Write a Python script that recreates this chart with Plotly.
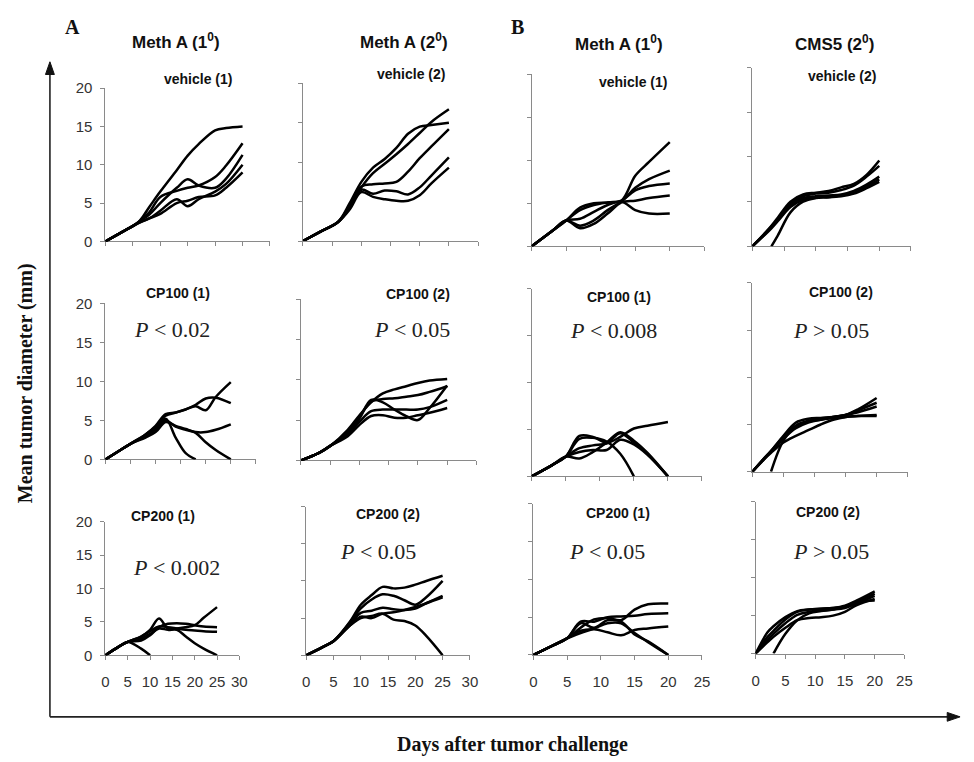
import plotly.graph_objects as go

W, H = 974, 762

# ---------------- data (days after challenge, mean tumour diameter mm) ----------------
# Panel A, Meth A (1st challenge)
A1_VEH_DAYS = [0, 3, 6, 8, 10, 13, 15, 17, 20, 22, 25]
A1_VEH = [
    [0, 1.2, 2.5, 4.5, 6.5, 9.3, 11.2, 12.7, 14.5, 14.8, 15.0],
    [0, 1.2, 2.5, 3.8, 5.8, 6.6, 7.0, 7.3, 8.4, 9.9, 12.8],
    [0, 1.2, 2.5, 3.5, 5.0, 7.0, 8.1, 7.3, 7.0, 8.2, 11.3],
    [0, 1.2, 2.4, 3.0, 4.0, 5.5, 4.6, 5.5, 6.5, 7.5, 10.0],
    [0, 1.2, 2.4, 3.0, 3.6, 5.0, 5.3, 5.8, 6.0, 7.0, 9.0],
]
A1_CP100_DAYS = [0, 3, 5, 8, 10, 12, 14, 16, 18, 20, 22, 25]
A1_CP100 = [
    [0, 1.2, 2.0, 3.2, 4.2, 5.6, 6.0, 6.4, 6.8, 6.3, 8.0, 9.9],
    [0, 1.2, 2.0, 3.2, 4.3, 5.8, 6.0, 6.4, 7.0, 7.8, 7.9, 7.2],
    [0, 1.2, 2.0, 3.0, 4.0, 5.0, 4.2, 3.8, 3.5, 3.5, 3.8, 4.5],
    [0, 1.2, 2.0, 2.8, 3.5, 4.8, 4.3, 3.9, 3.4, 2.2, 1.2, 0],
    [0, 1.2, 2.0, 3.0, 3.8, 5.2, 2.8, 0.8, 0, None, None, None],
]
A1_CP200_DAYS = [0, 3, 5, 8, 10, 12, 14, 16, 18, 20, 22, 25]
A1_CP200 = [
    [0, 1.3, 2.0, 1.0, 0, None, None, None, None, None, None, None],
    [0, 1.3, 2.0, 2.8, 3.8, 5.5, 4.0, 4.0, 4.2, 4.5, 5.6, 7.2],
    [0, 1.3, 2.0, 2.2, 3.0, 4.2, 4.7, 4.8, 4.7, 4.5, 4.3, 4.2],
    [0, 1.3, 2.0, 2.8, 3.6, 4.3, 4.2, 4.0, 3.8, 3.7, 3.6, 3.5],
    [0, 1.3, 2.0, 2.5, 3.2, 4.0, 3.8, 3.8, 2.8, 1.8, 1.0, 0],
]
# Panel A, Meth A (2nd challenge)
A2_VEH_DAYS = [0, 3, 6, 8, 10, 12, 14, 16, 18, 20, 22, 25]
A2_VEH = [
    [0, 1.2, 2.4, 4.5, 6.8, 8.6, 9.8, 11.0, 12.3, 13.7, 15.1, 16.7],
    [0, 1.2, 2.4, 4.8, 7.5, 9.3, 10.4, 11.8, 13.6, 14.5, 14.7, 15.0],
    [0, 1.2, 2.4, 4.3, 6.9, 7.2, 7.3, 7.5, 8.8, 10.5, 12.0, 14.2],
    [0, 1.2, 2.4, 4.2, 6.5, 6.0, 6.4, 6.3, 5.9, 6.8, 8.3, 10.6],
    [0, 1.2, 2.4, 4.0, 6.2, 5.6, 5.3, 5.1, 5.1, 5.8, 7.3, 9.3],
]
A2_CP100_DAYS = [0, 3, 5, 8, 10, 12, 14, 16, 18, 20, 22, 25]
A2_CP100 = [
    [0, 0.9, 1.8, 3.8, 5.6, 7.2, 8.3, 8.8, 9.2, 9.6, 9.9, 10.1],
    [0, 0.9, 1.8, 3.6, 5.4, 7.3, 7.6, 7.7, 7.9, 8.1, 8.5, 9.2],
    [0, 0.9, 1.8, 3.4, 5.2, 7.5, 7.2, 6.3, 5.5, 5.0, 6.5, 9.3],
    [0, 0.9, 1.8, 3.2, 4.8, 6.1, 6.3, 6.3, 6.3, 6.3, 6.6, 7.5],
    [0, 0.9, 1.8, 3.0, 4.4, 5.5, 5.6, 5.3, 5.3, 5.6, 5.9, 6.5],
]
A2_CP200_DAYS = [0, 3, 5, 8, 10, 12, 14, 16, 18, 20, 22, 25]
A2_CP200 = [
    [0, 1.1, 1.9, 4.5, 6.8, 8.1, 9.2, 9.0, 9.1, 9.5, 10.0, 10.7],
    [0, 1.1, 1.9, 4.4, 6.3, 7.5, 8.2, 8.0, 7.4, 6.8, 7.8, 10.0],
    [0, 1.1, 1.9, 4.2, 5.7, 6.0, 6.4, 6.2, 6.1, 6.3, 7.0, 8.0],
    [0, 1.1, 1.9, 4.0, 5.2, 5.0, 5.6, 5.8, 6.1, 6.5, 7.0, 7.8],
    [0, 1.1, 1.9, 4.0, 5.0, 5.3, 5.6, 4.8, 4.6, 4.0, 2.6, 0],
]
# Panel B, Meth A (1st challenge)
B1_VEH_DAYS = [0, 3, 5, 7, 9, 11, 13, 15, 17, 20]
B1_VEH = [
    [0, 1.8, 3.0, 4.5, 5.0, 5.1, 5.3, 8.2, 9.8, 12.1],
    [0, 1.8, 3.0, 4.2, 4.8, 5.1, 5.3, 6.8, 7.8, 8.8],
    [0, 1.8, 3.0, 2.4, 3.0, 4.2, 5.2, 6.5, 7.0, 7.3],
    [0, 1.8, 3.0, 2.1, 2.6, 3.8, 5.1, 5.3, 5.6, 5.9],
    [0, 1.8, 3.0, 3.2, 4.0, 4.8, 5.2, 4.2, 3.8, 3.8],
]
B1_CP100_DAYS = [0, 3, 5, 7, 9, 11, 13, 15, 17, 20]
B1_CP100 = [
    [0, 1.2, 2.1, 3.0, 3.3, 3.5, 4.2, 5.1, 5.4, 5.8],
    [0, 1.2, 2.1, 4.3, 4.2, 3.6, 4.6, 3.6, 2.4, 0],
    [0, 1.2, 2.1, 1.9, 2.6, 3.6, 4.7, 3.8, 2.5, 0],
    [0, 1.2, 2.1, 4.0, 4.1, 3.7, 2.4, 0, None, None],
    [0, 1.2, 2.1, 2.6, 2.8, 2.8, 3.9, 3.4, 2.3, 0],
]
B1_CP200_DAYS = [0, 3, 5, 7, 9, 11, 13, 15, 17, 20]
B1_CP200 = [
    [0, 1.3, 2.2, 3.6, 4.7, 4.9, 4.6, 6.0, 6.7, 6.8],
    [0, 1.3, 2.2, 4.4, 4.4, 5.0, 5.1, 5.2, 5.4, 5.5],
    [0, 1.3, 2.2, 3.2, 3.4, 3.0, 2.6, 3.3, 3.5, 3.75],
    [0, 1.3, 2.2, 4.2, 3.6, 4.6, 4.4, 2.7, 1.8, 0],
    [0, 1.3, 2.2, 2.9, 3.5, 4.2, 4.2, 2.9, 1.7, 0],
]
# Panel B, CMS5 (2nd challenge)
B2_VEH_DAYS = [0, 2, 3, 4, 6, 8, 10, 12, 14, 16, 18, 20]
B2_VEH = [
    [0, 1.5, 2.3, 3.2, 5.0, 5.8, 6.0, 6.2, 6.6, 7.0, 8.0, 9.6],
    [0, 1.4, 2.2, 3.0, 4.8, 5.6, 5.9, 6.0, 6.3, 6.8, 7.8, 9.0],
    [0, 1.4, 2.2, 3.0, 4.6, 5.4, 5.6, 5.7, 5.8, 6.2, 6.9, 7.8],
    [0, 1.3, 2.0, 2.8, 4.4, 5.2, 5.5, 5.5, 5.6, 5.9, 6.5, 7.2],
    [None, None, 0, 1.2, 3.8, 5.0, 5.4, 5.5, 5.7, 6.0, 6.7, 7.5],
]
B2_CP100_DAYS = [0, 2, 3, 5, 7, 9, 11, 13, 15, 17, 20]
B2_CP100 = [
    [0, 1.5, 2.2, 3.8, 5.2, 5.6, 5.7, 5.8, 6.0, 6.6, 7.8],
    [0, 1.5, 2.2, 3.7, 4.9, 5.4, 5.6, 5.8, 6.0, 6.5, 7.3],
    [0, 1.4, 2.1, 3.5, 4.6, 5.2, 5.5, 5.8, 6.0, 6.3, 6.9],
    [0, 1.4, 2.0, 3.1, 3.8, 4.4, 5.0, 5.5, 5.8, 5.9, 6.0],
    [None, None, 0, 3.3, 4.8, 5.3, 5.5, 5.7, 5.8, 5.9, 5.9],
]
B2_CP200_DAYS = [0, 2, 3, 5, 7, 9, 11, 13, 15, 17, 20]
B2_CP200 = [
    [0, 2.8, 3.6, 4.8, 5.6, 5.8, 5.9, 6.0, 6.3, 7.0, 8.2],
    [0, 2.2, 3.0, 4.5, 5.5, 5.8, 5.9, 6.0, 6.2, 6.8, 7.9],
    [0, 1.8, 2.6, 4.0, 5.1, 5.5, 5.7, 5.8, 6.0, 6.6, 7.6],
    [0, 1.5, 2.2, 3.4, 4.4, 4.7, 4.8, 5.0, 5.5, 6.4, 7.2],
    [None, None, 0, 2.6, 4.4, 5.3, 5.6, 5.8, 6.2, 6.8, 7.0],
]

COL_HEADERS = ["Meth A (1<sup>0</sup>)", "Meth A (2<sup>0</sup>)",
               "Meth A (1<sup>0</sup>)", "CMS5 (2<sup>0</sup>)"]
GROUP_TITLES = ["vehicle (1)", "vehicle (2)", "vehicle (1)", "vehicle (2)",
                "CP100 (1)", "CP100 (2)", "CP100 (1)", "CP100 (2)",
                "CP200 (1)", "CP200 (2)", "CP200 (1)", "CP200 (2)"]
P_TEXTS = [None, None, None, None,
           "<i>P</i> &lt; 0.02", "<i>P</i> &lt; 0.05", "<i>P</i> &lt; 0.008", "<i>P</i> &gt; 0.05",
           "<i>P</i> &lt; 0.002", "<i>P</i> &lt; 0.05", "<i>P</i> &lt; 0.05", "<i>P</i> &gt; 0.05"]
Y_TICKS = [0, 5, 10, 15, 20]

PANEL_DATA = [
    (A1_VEH_DAYS, A1_VEH), (A2_VEH_DAYS, A2_VEH), (B1_VEH_DAYS, B1_VEH), (B2_VEH_DAYS, B2_VEH),
    (A1_CP100_DAYS, A1_CP100), (A2_CP100_DAYS, A2_CP100), (B1_CP100_DAYS, B1_CP100), (B2_CP100_DAYS, B2_CP100),
    (A1_CP200_DAYS, A1_CP200), (A2_CP200_DAYS, A2_CP200), (B1_CP200_DAYS, B1_CP200), (B2_CP200_DAYS, B2_CP200),
]

# ---------------- layout geometry (pixels) ----------------
# (left, right, top, bottom, x max)
GEOM = [
    (102.7, 269.3, 81.0, 237.7, 30), (302.7, 480.0, 76.0, 237.3, 30),
    (534.3, 709.0, 66.7, 242.7, 25), (757.7, 918.3, 60.0, 242.7, 25),
    (102.7, 255.0, 301.0, 460.7, 30), (300.7, 478.3, 296.7, 461.7, 30),
    (534.3, 706.7, 286.0, 478.0, 25), (757.7, 915.0, 280.0, 473.3, 25),
    (102.7, 238.3, 524.3, 661.0, 30), (306.0, 471.7, 509.0, 661.0, 30),
    (536.0, 706.7, 506.0, 660.7, 25), (761.0, 911.7, 504.0, 659.3, 25),
]
TITLE_POS = [(196.7, 71.7), (411.7, 66.7), (637.3, 75.0), (848.3, 68.3),
             (175.7, 290.0), (419.0, 291.0), (622.3, 295.0), (847.3, 289.3),
             (160.7, 518.3), (389.0, 516.7), (621.7, 515.0), (834.0, 514.0)]
P_POS = [None, None, None, None,
         (170, 328.3), (413.3, 328.3), (616.7, 329.3), (837.3, 329.3),
         (175, 571.7), (378.3, 555.0), (610.7, 555.0), (837.3, 555.0)]
HEADER_POS = [(174, 33), (405, 33), (623, 35), (840.7, 35)]


def px(x):
    return x / W


def py(y):
    return 1 - y / H


SANS = "Arial, Liberation Sans, sans-serif"
SERIF = "Times New Roman, Liberation Serif, serif"
AXC = "#8a8a8a"

fig = go.Figure()
layout = dict(width=W, height=H, margin=dict(l=0, r=0, t=0, b=0),
              paper_bgcolor="white", plot_bgcolor="white", showlegend=False)

for i, ((days, series), (l, r, t, b, xmax)) in enumerate(zip(PANEL_DATA, GEOM)):
    k = i + 1
    sfx = "" if k == 1 else str(k)
    for s in series:
        fig.add_trace(go.Scatter(
            x=days, y=s, mode="lines", xaxis="x" + sfx, yaxis="y" + sfx,
            line=dict(color="black", width=2.5, shape="spline", smoothing=1.0),
            connectgaps=False, hoverinfo="skip", showlegend=False, cliponaxis=True))
    row, col = divmod(i, 4)
    layout["xaxis" + sfx] = dict(
        domain=[px(l), px(r)], range=[0, xmax], anchor="y" + sfx,
        showline=True, linecolor=AXC, linewidth=1, ticks="outside", ticklen=4,
        tickcolor=AXC, tickwidth=1, tick0=0, dtick=5, showgrid=False, zeroline=False,
        showticklabels=(row == 2), ticklabelstandoff=9,
        tickfont=dict(family=SANS, size=15, color="#333"), layer="below traces",
        fixedrange=True)
    layout["yaxis" + sfx] = dict(
        domain=[py(b), py(t)], range=[0, 20], anchor="x" + sfx,
        showline=True, linecolor=AXC, linewidth=1, ticks="outside", ticklen=4,
        tickcolor=AXC, tickwidth=1, tickvals=Y_TICKS, showgrid=False, zeroline=False,
        showticklabels=(col == 0), ticklabelstandoff=5,
        tickfont=dict(family=SANS, size=15, color="#333"), layer="below traces",
        fixedrange=True)

ann = []
for txt, (x, y) in zip(GROUP_TITLES, TITLE_POS):
    ann.append(dict(text="<b>%s</b>" % txt, x=px(x), y=py(y), xref="paper", yref="paper",
                    showarrow=False, xanchor="center", yanchor="middle",
                    font=dict(family=SANS, size=14, color="#111")))
for txt, pos in zip(P_TEXTS, P_POS):
    if txt is None:
        continue
    ann.append(dict(text=txt, x=px(pos[0]), y=py(pos[1]), xref="paper", yref="paper",
                    showarrow=False, xanchor="center", yanchor="middle",
                    font=dict(family=SERIF, size=22, color="#222")))
for txt, (x, y) in zip(COL_HEADERS, HEADER_POS):
    ann.append(dict(text="<b>%s</b>" % txt, x=px(x), y=py(y), xref="paper", yref="paper",
                    showarrow=False, xanchor="center", yanchor="middle",
                    font=dict(family=SANS, size=17, color="#111")))
for txt, (x, y) in [("A", (69, 18)), ("B", (520, 18))]:
    ann.append(dict(text="<b>%s</b>" % txt, x=px(x), y=py(y), xref="paper", yref="paper",
                    showarrow=False, xanchor="center", yanchor="middle",
                    font=dict(family=SERIF, size=20, color="#111")))
ann.append(dict(text="<b>Mean tumor diameter (mm)</b>", x=px(22), y=py(383), xref="paper",
                yref="paper", showarrow=False, textangle=-90, xanchor="center",
                yanchor="middle", font=dict(family=SERIF, size=20, color="#111")))
ann.append(dict(text="<b>Days after tumor challenge</b>", x=px(515), y=py(752), xref="paper",
                yref="paper", showarrow=False, xanchor="center", yanchor="middle",
                font=dict(family=SERIF, size=20, color="#111")))
layout["annotations"] = ann

# big framing arrows
ox, oy = 46.5, 724
shapes = [
    dict(type="line", xref="paper", yref="paper", x0=px(ox), y0=py(oy), x1=px(ox), y1=py(64),
         line=dict(color="#222", width=1.6)),
    dict(type="line", xref="paper", yref="paper", x0=px(ox), y0=py(oy), x1=px(958), y1=py(oy),
         line=dict(color="#222", width=1.6)),
    dict(type="path", xref="paper", yref="paper",
         path="M %f %f L %f %f L %f %f Z" % (px(ox), py(54), px(ox - 4.5), py(67), px(ox + 4.5), py(67)),
         fillcolor="#111", line=dict(color="#111", width=1)),
    dict(type="path", xref="paper", yref="paper",
         path="M %f %f L %f %f L %f %f Z" % (px(968), py(oy), px(955), py(oy - 4.5), px(955), py(oy + 4.5)),
         fillcolor="#111", line=dict(color="#111", width=1)),
]
layout["shapes"] = shapes

fig.update_layout(**layout)
fig.write_html("out.html")
